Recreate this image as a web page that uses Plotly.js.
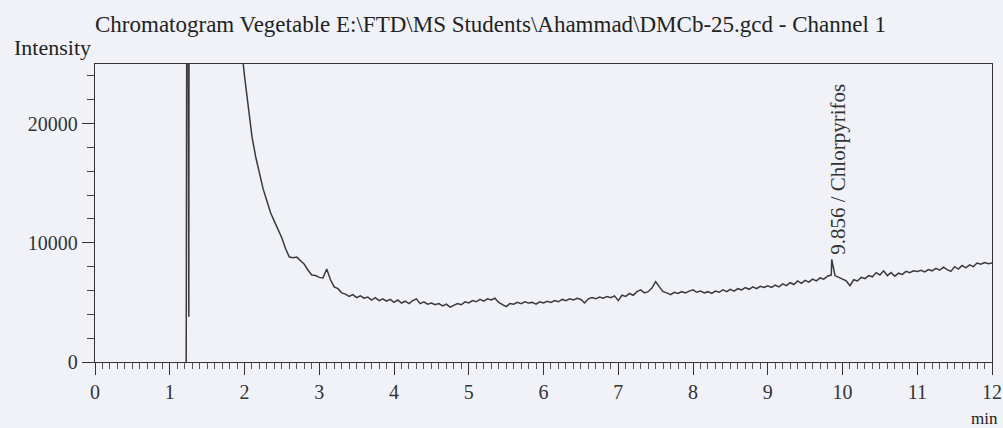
<!DOCTYPE html>
<html>
<head>
<meta charset="utf-8">
<script src="https://cdn.plot.ly/plotly-3.0.1.min.js"></script>
<style>
  html, body { margin: 0; padding: 0; background: #f0f2f8; }
  #chart { width: 1003px; height: 428px; }
</style>
</head>
<body>
<div id="chart"></div>
<script>
// Solvent front: the detector saturates just after injection
const solventTime      = [1.22, 1.235, 1.255, 1.262, 1.95, 1.98];
const solventIntensity = [0, 60000, 3800, 60000, 60000, 25200];

// Baseline after the solvent front, sampled every 0.05 min from 2.00 to 12.00
const baselineStart = 2.0;
const baselineStep = 0.05;
const baselineIntensity = [
  // 2.00 - 2.95
  24000, 21300, 18900, 17200, 15700, 14500, 13500, 12500, 11800, 11100,
  10400, 9500, 8800, 8750, 8800, 8500, 8200, 7700, 7300, 7250,
  // 3.00 - 3.95
  7100, 7050, 7800, 6900, 6300, 6150, 5800, 5700, 5500, 5650,
  5400, 5550, 5350, 5450, 5200, 5400, 5150, 5300, 5100, 5250,
  // 4.00 - 4.95
  5000, 5200, 4950, 5100, 4900, 5150, 5300, 4900, 5050, 4850,
  4950, 4800, 4900, 4700, 4850, 4600, 4750, 4900, 4800, 5050,
  // 5.00 - 5.95
  4950, 5150, 5050, 5250, 5100, 5300, 5200, 5350, 5000, 4800,
  4650, 4900, 4850, 5000, 4900, 5050, 4950, 5000, 4850, 5050,
  // 6.00 - 6.95
  4950, 5100, 5000, 5150, 5050, 5250, 5150, 5300, 5200, 5350,
  5250, 4950, 5300, 5400, 5300, 5450, 5350, 5500, 5400, 5550,
  // 7.00 - 7.95
  5150, 5600, 5500, 5750, 5600, 5900, 6050, 5800, 5900, 6200,
  6750, 6300, 5900, 5800, 5650, 5850, 5750, 5900, 5800, 5950,
  // 8.00 - 8.95
  6050, 5850, 5950, 5800, 5900, 5750, 5950, 5850, 6050, 5900,
  6100, 5950, 6150, 6050, 6250, 6100, 6300, 6150, 6350, 6250,
  // 9.00 - 9.95
  6400, 6250, 6450, 6300, 6550, 6400, 6650, 6500, 6800, 6600,
  6850, 6700, 6950, 6800, 7050, 6950, 7200, 7300, 7250, 7100,
  // 10.00 - 10.95
  7000, 6800, 6400, 6900, 6800, 7100, 7000, 7250, 7150, 7500,
  7300, 7650, 7250, 7500, 7200, 7450, 7350, 7600, 7500, 7650,
  // 11.00 - 11.95
  7600, 7700, 7550, 7750, 7650, 7850, 7700, 7950, 7750, 7600,
  8000, 7800, 8100, 7900, 8150, 8000, 8300, 8200, 8350, 8250,
  // 12.00
  8300
];

// Identified compound peak
const peakTime = 9.856;
const peakIntensity = 8600;
const peakName = 'Chlorpyrifos';

// Tick labels
const xTickValues = [0, 1, 2, 3, 4, 5, 6, 7, 8, 9, 10, 11, 12];
const yTickValues = [0, 10000, 20000];
const yTickLabels = ['0', '10000', '20000'];

// Assemble one continuous trace (solvent front + baseline + apex of the peak)
const points = [];
solventTime.forEach((t, i) => points.push([t, solventIntensity[i]]));
baselineIntensity.forEach((v, i) => points.push([+(baselineStart + i * baselineStep).toFixed(3), v]));
points.push([peakTime, peakIntensity]);
points.sort((a, b) => a[0] - b[0]);

const trace = {
  x: points.map(p => p[0]),
  y: points.map(p => p[1]),
  type: 'scatter',
  mode: 'lines',
  line: { color: '#3a3a3a', width: 1.5 },
  hoverinfo: 'x+y'
};

const serif = 'Liberation Serif, Times New Roman, serif';

const layout = {
  width: 1003,
  height: 428,
  margin: { l: 95, r: 11, t: 64, b: 66 },
  paper_bgcolor: '#f0f2f8',
  plot_bgcolor: '#f0f2f8',
  showlegend: false,
  font: { family: serif, color: '#222', size: 18 },
  title: {
    text: 'Chromatogram Vegetable E:\\FTD\\MS Students\\Ahammad\\DMCb-25.gcd - Channel 1',
    font: { family: serif, size: 23, color: '#222' },
    x: 0, xref: 'paper', xanchor: 'left',
    y: 0.944, yref: 'container', yanchor: 'middle'
  },
  xaxis: {
    range: [0, 12],
    tickvals: xTickValues,
    ticktext: xTickValues.map(String),
    ticks: 'outside', ticklen: 12, tickwidth: 1, tickcolor: '#333',
    minor: { dtick: 0.1, ticks: 'outside', ticklen: 6, tickcolor: '#555', tickwidth: 1 },
    showline: true, linecolor: '#333', linewidth: 1.3, mirror: true,
    showgrid: false, zeroline: false,
    tickfont: { family: serif, size: 20, color: '#333' },
    fixedrange: true
  },
  yaxis: {
    range: [0, 25000],
    tickvals: yTickValues,
    ticktext: yTickLabels,
    ticks: 'outside', ticklen: 12, tickwidth: 1, tickcolor: '#333',
    minor: { dtick: 2000, ticks: 'outside', ticklen: 7, tickcolor: '#444', tickwidth: 1 },
    showline: true, linecolor: '#333', linewidth: 1.3, mirror: true,
    showgrid: false, zeroline: false,
    tickfont: { family: serif, size: 20, color: '#333' },
    fixedrange: true
  },
  annotations: [
    {
      text: 'Intensity',
      xref: 'paper', yref: 'paper',
      x: 0, y: 1.057, xanchor: 'right', yanchor: 'middle', xshift: -2,
      showarrow: false,
      font: { family: serif, size: 22, color: '#222' }
    },
    {
      text: 'min',
      xref: 'paper', yref: 'paper',
      x: 1, y: -0.188, xanchor: 'right', yanchor: 'middle', xshift: 8,
      showarrow: false,
      font: { family: serif, size: 17, color: '#222' }
    },
    {
      text: peakTime.toFixed(3) + ' / ' + peakName,
      xref: 'x', yref: 'y',
      x: peakTime, y: peakIntensity,
      xanchor: 'center', yanchor: 'bottom', yshift: 3, xshift: 6,
      textangle: -90,
      showarrow: false,
      font: { family: serif, size: 21, color: '#333' }
    }
  ]
};

Plotly.newPlot('chart', [trace], layout, { staticPlot: true, displayModeBar: false });
</script>
</body>
</html>
